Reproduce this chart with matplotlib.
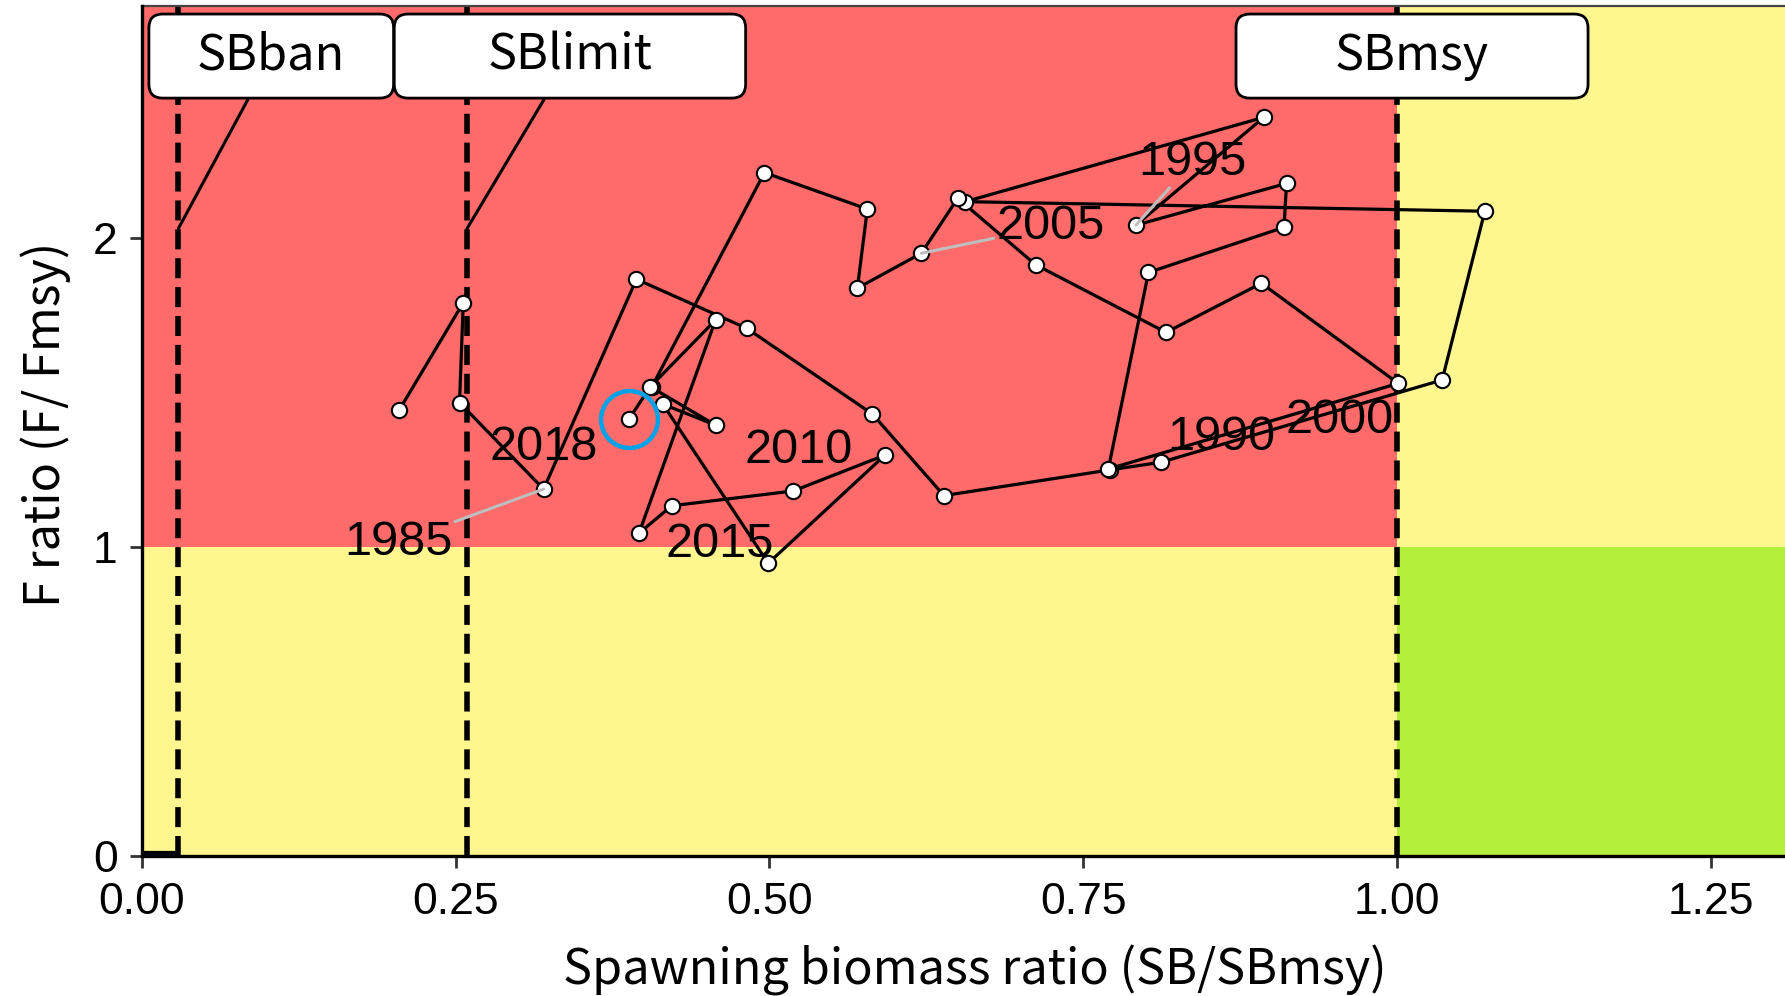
import matplotlib.pyplot as plt
from matplotlib.patches import Rectangle, FancyBboxPatch

# stock trajectory in year order: spawning biomass ratio and F ratio
sb_ratio = [0.205, 0.256, 0.253, 0.320, 0.394, 0.482, 0.582, 0.639, 0.771, 0.812,
            1.036, 1.070, 0.656, 0.894, 0.792, 0.912, 0.910, 0.802, 0.770, 1.001,
            0.892, 0.816, 0.712, 0.650, 0.621, 0.570, 0.578, 0.496, 0.406, 0.457,
            0.415, 0.499, 0.592, 0.519, 0.422, 0.396, 0.457, 0.405, 0.388]
f_ratio = [1.443, 1.790, 1.467, 1.187, 1.866, 1.707, 1.430, 1.166, 1.249, 1.274,
           1.540, 2.086, 2.117, 2.390, 2.041, 2.176, 2.034, 1.888, 1.252, 1.529,
           1.853, 1.694, 1.913, 2.128, 1.950, 1.837, 2.093, 2.211, 1.516, 1.394,
           1.462, 0.947, 1.297, 1.181, 1.133, 1.044, 1.734, 1.518, 1.413]

# year labels: text, point they belong to, label anchor (centre, baseline)
year_text = ["1985", "1990", "1995", "2000", "2005", "2010", "2015", "2018"]
year_point = [3, 8, 14, 19, 24, 29, 34, 38]
year_lab_x = [0.204, 0.860, 0.837, 0.954, 0.724, 0.5235, 0.460, 0.320]
year_lab_y = [0.974, 1.313, 2.203, 1.368, 1.996, 1.271, 0.968, 1.281]
year_segment = [True, False, True, False, True, False, False, False]

# reference points
ref_names = ["SBban", "SBlimit", "SBmsy"]
ref_values = [0.029, 0.259, 1.0]
ref_box_x = [0.103, 0.341, 1.012]
ref_box_w = [0.195, 0.280, 0.2805]
ref_segment = [True, True, False]
ref_point_y = 2.03

xticks = [0.0, 0.25, 0.5, 0.75, 1.0, 1.25]
yticks = [0, 1, 2]
xmax, ymax = 1.3092, 2.75

red, yellow, green = "#FF6A6A", "#FFF68F", "#B3EE3A"
jp = "Noto Sans CJK JP"
num = "Liberation Sans"

fig = plt.figure(figsize=(17.85, 9.96), dpi=100)
ax = fig.add_axes([142 / 1785, 140 / 996, 1643 / 1785, 850 / 996])
ax.set_xlim(0, xmax)
ax.set_ylim(0, ymax)

# kobe quadrants
ax.add_patch(Rectangle((0, 1), 1, 5, color=red, lw=0, zorder=0))
ax.add_patch(Rectangle((0, 0), 1, 1, color=yellow, lw=0, zorder=0))
ax.add_patch(Rectangle((1, 1), 5, 5, color=yellow, lw=0, zorder=0))
ax.add_patch(Rectangle((1, 0), 5, 1, color=green, lw=0, zorder=0))

for v in ref_values:
    ax.axvline(v, color="black", lw=4, dashes=(3.6, 1.6), zorder=1)
ax.plot([0, ref_values[0]], [0.008, 0.008], color="black", lw=4.5,
        solid_capstyle="butt", zorder=1)

ax.plot(sb_ratio, f_ratio, color="black", lw=2.3, zorder=2)
ax.plot(sb_ratio, f_ratio, "o", ms=11, mfc="white", mec="black", mew=1.5, zorder=3)
# latest year
ax.plot(sb_ratio[-1], f_ratio[-1], "o", ms=41, mfc="none", mec="#00A3E8",
        mew=3.2, zorder=3)

for t, i, lx, ly, seg in zip(year_text, year_point, year_lab_x, year_lab_y, year_segment):
    if seg:
        ax.annotate(t, xy=(sb_ratio[i], f_ratio[i]), xytext=(lx, ly),
                    ha="center", va="baseline", fontsize=35, family=num,
                    arrowprops=dict(arrowstyle="-", color="#BEBEBE", lw=2.2,
                                    shrinkA=0, shrinkB=0), zorder=4)
    else:
        ax.text(lx, ly, t, ha="center", va="baseline", fontsize=35,
                family=num, zorder=4)

# labels for reference points
box_h = 0.272
box_y = 2.588
asp = (1255 / 309.1)
for name, v, bx, bw, seg in zip(ref_names, ref_values, ref_box_x, ref_box_w, ref_segment):
    box = FancyBboxPatch((bx - bw / 2, box_y - box_h / 2), bw, box_h,
                         boxstyle="round,pad=0,rounding_size=0.011",
                         mutation_aspect=asp, fc="white", ec="black",
                         lw=2, zorder=6)
    ax.add_patch(box)
    if seg:
        ax.annotate("", xy=(v, ref_point_y), xytext=(bx, box_y),
                    arrowprops=dict(arrowstyle="-", color="black", lw=2.2,
                                    patchA=box, shrinkA=0, shrinkB=0), zorder=5)
    ax.text(bx, box_y, name, ha="center", va="center", fontsize=35,
            family=jp, zorder=7)

ax.set_xticks(xticks)
ax.set_xticklabels([f"{v:.2f}" for v in xticks], fontsize=32, family=num)
ax.set_yticks(yticks)
ax.set_yticklabels([str(v) for v in yticks], fontsize=32, family=num)
ax.tick_params(axis="x", length=8.5, width=2, color="#333333", pad=10)
ax.tick_params(axis="y", length=8.5, width=2, color="#333333", pad=9)

for s in ["left", "bottom"]:
    ax.spines[s].set_linewidth(2.4)
    ax.spines[s].set_zorder(8)
ax.spines["top"].set_color("#444444")
ax.spines["top"].set_linewidth(1.6)
ax.spines["right"].set_visible(False)

fig.text(974.5 / 1785, 1 - 970 / 996, "Spawning biomass ratio (SB/SBmsy)",
         ha="center", va="center", fontsize=35, family=jp)
fig.text(45.5 / 1785, 1 - 424 / 996, "F ratio (F/ Fmsy)", rotation=90,
         ha="center", va="center", fontsize=35, family=jp)

fig.savefig("out.png", dpi=100)
